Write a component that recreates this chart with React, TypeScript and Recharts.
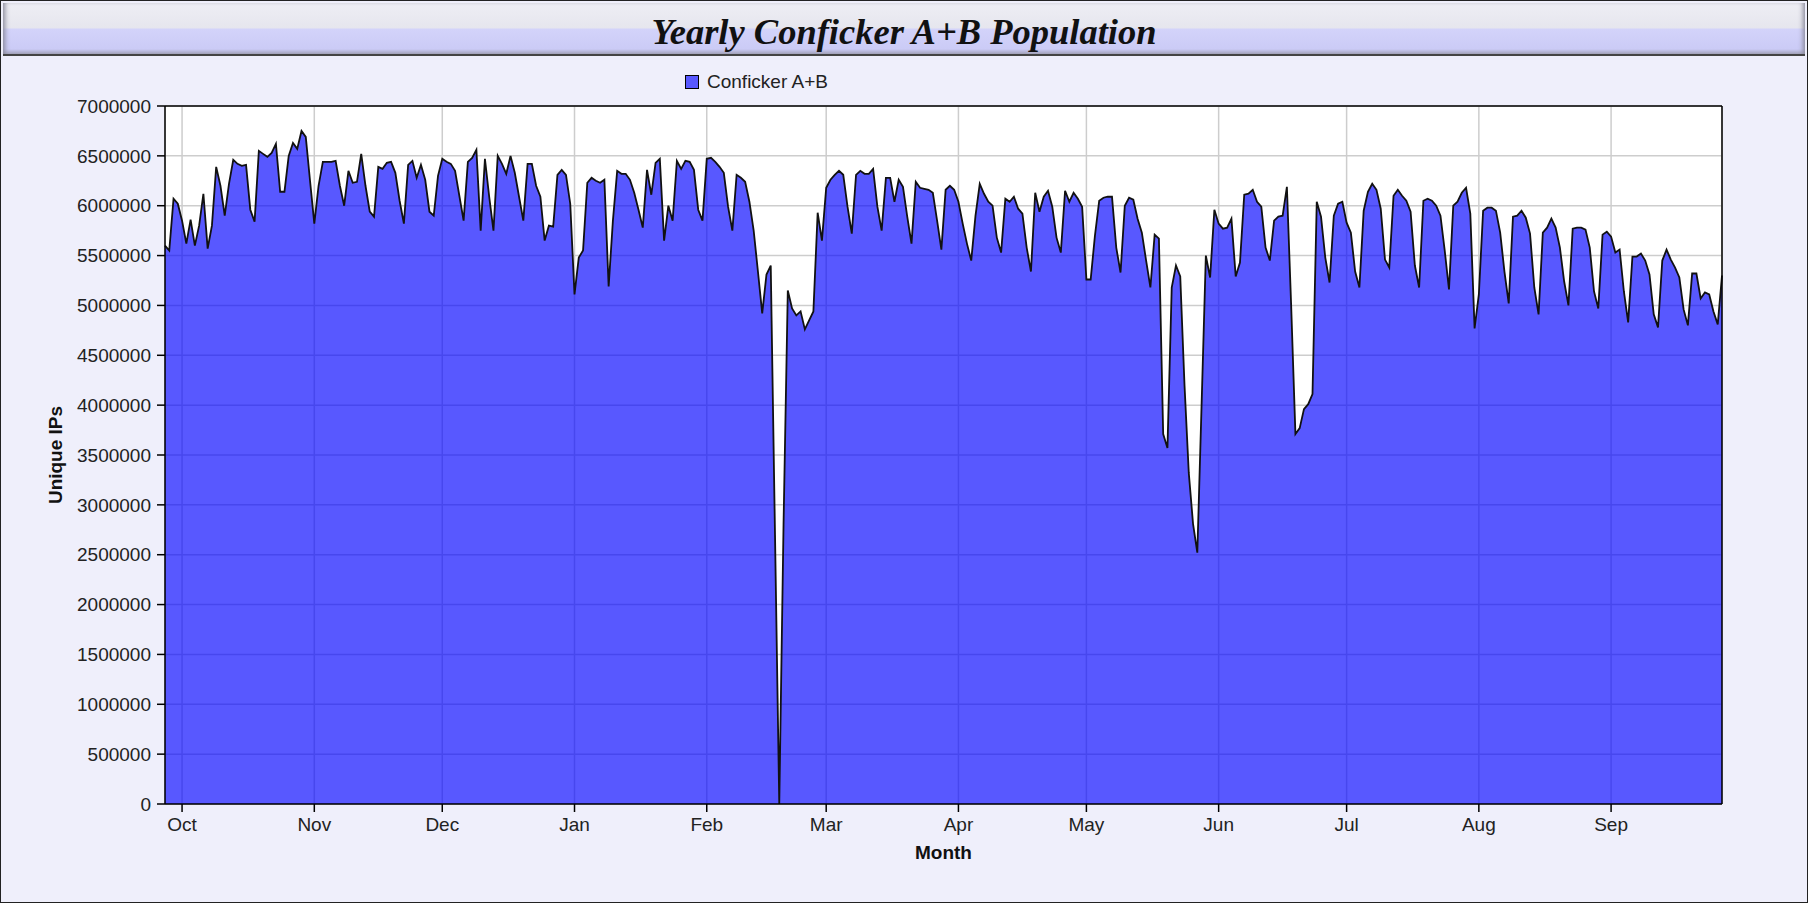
import { AreaChart, Area, XAxis, YAxis, CartesianGrid, ReferenceLine } from "recharts";

// daily unique IPs, starting Sep 27 (index 0) through Sep 27 of the next year
const population = [
  5600000, 5550000, 6070000, 6020000, 5850000, 5620000, 5860000, 5600000, 5800000, 6120000,
  5570000, 5800000, 6390000, 6200000, 5900000, 6220000, 6460000, 6420000, 6400000, 6410000,
  5960000, 5840000, 6550000, 6520000, 6490000, 6530000, 6620000, 6140000, 6140000, 6500000,
  6630000, 6570000, 6750000, 6690000, 6250000, 5820000, 6200000, 6440000, 6440000, 6440000,
  6450000, 6200000, 6000000, 6350000, 6230000, 6240000, 6520000, 6200000, 5940000, 5890000,
  6390000, 6370000, 6430000, 6440000, 6330000, 6050000, 5820000, 6410000, 6450000, 6280000,
  6410000, 6260000, 5940000, 5900000, 6300000, 6470000, 6440000, 6420000, 6350000, 6100000,
  5850000, 6440000, 6480000, 6560000, 5750000, 6470000, 6090000, 5750000, 6500000, 6420000,
  6320000, 6500000, 6330000, 6090000, 5850000, 6420000, 6420000, 6200000, 6090000, 5650000,
  5800000, 5790000, 6310000, 6360000, 6310000, 6020000, 5110000, 5480000, 5550000, 6230000,
  6280000, 6250000, 6230000, 6260000, 5190000, 5850000, 6350000, 6320000, 6320000, 6260000,
  6130000, 5960000, 5780000, 6360000, 6110000, 6430000, 6470000, 5650000, 6000000, 5850000,
  6450000, 6370000, 6450000, 6440000, 6360000, 5960000, 5850000, 6470000, 6480000, 6440000,
  6390000, 6330000, 5990000, 5750000, 6310000, 6280000, 6240000, 6040000, 5750000, 5340000,
  4920000, 5310000, 5400000, 2700000, 0, 2800000, 5150000, 4970000, 4900000, 4940000,
  4760000, 4850000, 4940000, 5930000, 5650000, 6180000, 6260000, 6310000, 6350000, 6310000,
  5990000, 5720000, 6310000, 6350000, 6320000, 6320000, 6370000, 5990000, 5750000, 6280000,
  6280000, 6040000, 6260000, 6190000, 5890000, 5620000, 6240000, 6180000, 6170000, 6160000,
  6130000, 5850000, 5560000, 6160000, 6200000, 6160000, 6040000, 5820000, 5620000, 5450000,
  5900000, 6220000, 6120000, 6040000, 6000000, 5680000, 5530000, 6070000, 6040000, 6090000,
  5970000, 5920000, 5580000, 5340000, 6130000, 5940000, 6090000, 6150000, 5990000, 5680000,
  5530000, 6150000, 6040000, 6130000, 6070000, 5990000, 5260000, 5260000, 5700000, 6050000,
  6080000, 6090000, 6090000, 5580000, 5330000, 6000000, 6080000, 6060000, 5870000, 5730000,
  5450000, 5180000, 5710000, 5670000, 3710000, 3570000, 5180000, 5400000, 5290000, 4200000,
  3320000, 2810000, 2520000, 4000000, 5500000, 5280000, 5960000, 5820000, 5770000, 5780000,
  5870000, 5290000, 5430000, 6110000, 6120000, 6160000, 6040000, 5990000, 5580000, 5450000,
  5850000, 5890000, 5900000, 6190000, 5000000, 3710000, 3770000, 3960000, 4010000, 4110000,
  6040000, 5890000, 5480000, 5230000, 5900000, 6020000, 6040000, 5830000, 5730000, 5340000,
  5180000, 5950000, 6140000, 6220000, 6160000, 5970000, 5460000, 5380000, 6100000, 6160000,
  6100000, 6050000, 5940000, 5400000, 5180000, 6050000, 6070000, 6050000, 6000000, 5900000,
  5550000, 5160000, 6000000, 6040000, 6130000, 6180000, 5920000, 4770000, 5110000, 5950000,
  5980000, 5980000, 5950000, 5730000, 5340000, 5020000, 5890000, 5900000, 5950000, 5880000,
  5720000, 5180000, 4910000, 5730000, 5780000, 5870000, 5780000, 5580000, 5240000, 5000000,
  5770000, 5780000, 5780000, 5760000, 5580000, 5140000, 4970000, 5710000, 5740000, 5690000,
  5530000, 5560000, 5140000, 4830000, 5490000, 5490000, 5520000, 5450000, 5310000, 4910000,
  4780000, 5450000, 5560000, 5460000, 5380000, 5280000, 4960000, 4800000, 5320000, 5320000,
  5070000, 5130000, 5110000, 4940000, 4810000, 5300000,
];

// day index of the first of each month
const monthTicks = [4, 35, 65, 96, 127, 155, 186, 216, 247, 277, 308, 339];
const monthLabels = ["Oct", "Nov", "Dec", "Jan", "Feb", "Mar", "Apr", "May", "Jun", "Jul", "Aug", "Sep"];

const yTicks = [
  0, 500000, 1000000, 1500000, 2000000, 2500000, 3000000, 3500000,
  4000000, 4500000, 5000000, 5500000, 6000000, 6500000, 7000000,
];

const data = population.map((v, i) => ({ day: i, v }));
const lastDay = population.length - 1;

const sans = "'Liberation Sans', Arial, sans-serif";

export default function App() {
  return (
    <div
      style={{
        position: "absolute",
        left: 0,
        top: 0,
        width: 1808,
        height: 903,
        boxSizing: "border-box",
        border: "1px solid #222",
        background: "#efeffb",
        fontFamily: sans,
      }}
    >
      <div
        style={{
          position: "absolute",
          left: 2,
          top: 2,
          right: 2,
          height: 51,
          background:
            "linear-gradient(#eeeef4 0%, #e6e6ee 48%, #d3d3fa 52%, #cbcbf6 90%, #a8a8c0 100%)",
          borderBottom: "2px solid #444",
          boxShadow: "inset 5px 0 5px -3px #8a8a9a, inset -5px 0 5px -3px #8a8a9a",
          display: "flex",
          alignItems: "center",
          justifyContent: "center",
        }}
      >
        <span
          style={{
            fontFamily: "'Liberation Serif', 'Times New Roman', serif",
            fontWeight: "bold",
            fontStyle: "italic",
            fontSize: 36.5,
            color: "#111",
            position: "relative",
            top: 3,
          }}
        >
          Yearly Conficker A+B Population
        </span>
      </div>

      <div
        style={{
          position: "absolute",
          left: 684,
          top: 70,
          display: "flex",
          alignItems: "center",
          fontSize: 19,
          color: "#222",
        }}
      >
        <span
          style={{
            display: "inline-block",
            width: 12,
            height: 12,
            background: "#5858ff",
            border: "1px solid #000",
            marginRight: 8,
          }}
        />
        Conficker A+B
      </div>

      <AreaChart
        width={1808}
        height={903}
        data={data}
        margin={{ top: 105, right: 87, bottom: 40, left: 39 }}
        style={{ position: "absolute", left: 0, top: 0 }}
      >
        <CartesianGrid stroke="#cdcdcd" strokeWidth={1.5} fill="#ffffff" />
        <XAxis
          dataKey="day"
          type="number"
          domain={[0, lastDay]}
          ticks={monthTicks}
          tickFormatter={(d) => monthLabels[monthTicks.indexOf(d)]}
          height={60}
          tickSize={8}
          tickMargin={6}
          tick={{ fontSize: 19, fill: "#222", fontFamily: sans }}
          axisLine={{ stroke: "#000", strokeWidth: 1.5 }}
          tickLine={{ stroke: "#000", strokeWidth: 1.5 }}
          label={{
            value: "Month",
            position: "insideBottom",
            offset: 5,
            style: { fontSize: 19, fontWeight: "bold", fill: "#111", fontFamily: sans },
          }}
        />
        <YAxis
          domain={[0, 7000000]}
          ticks={yTicks}
          interval={0}
          width={125}
          tickSize={8}
          tickMargin={6}
          tick={{ fontSize: 19, fill: "#222", fontFamily: sans }}
          axisLine={{ stroke: "#000", strokeWidth: 1.5 }}
          tickLine={{ stroke: "#000", strokeWidth: 1.5 }}
          label={{
            value: "Unique IPs",
            angle: -90,
            position: "insideLeft",
            offset: 15,
            style: { textAnchor: "middle", fontSize: 19, fontWeight: "bold", fill: "#111", fontFamily: sans },
          }}
        />
        <Area
          type="linear"
          dataKey="v"
          stroke="#111"
          strokeWidth={1.8}
          fill="#0000ff"
          fillOpacity={0.655}
          isAnimationActive={false}
          dot={false}
          activeDot={false}
        />
        <ReferenceLine y={7000000} stroke="#000" strokeWidth={1.5} />
        <ReferenceLine x={lastDay} stroke="#000" strokeWidth={1.5} />
      </AreaChart>
    </div>
  );
}
